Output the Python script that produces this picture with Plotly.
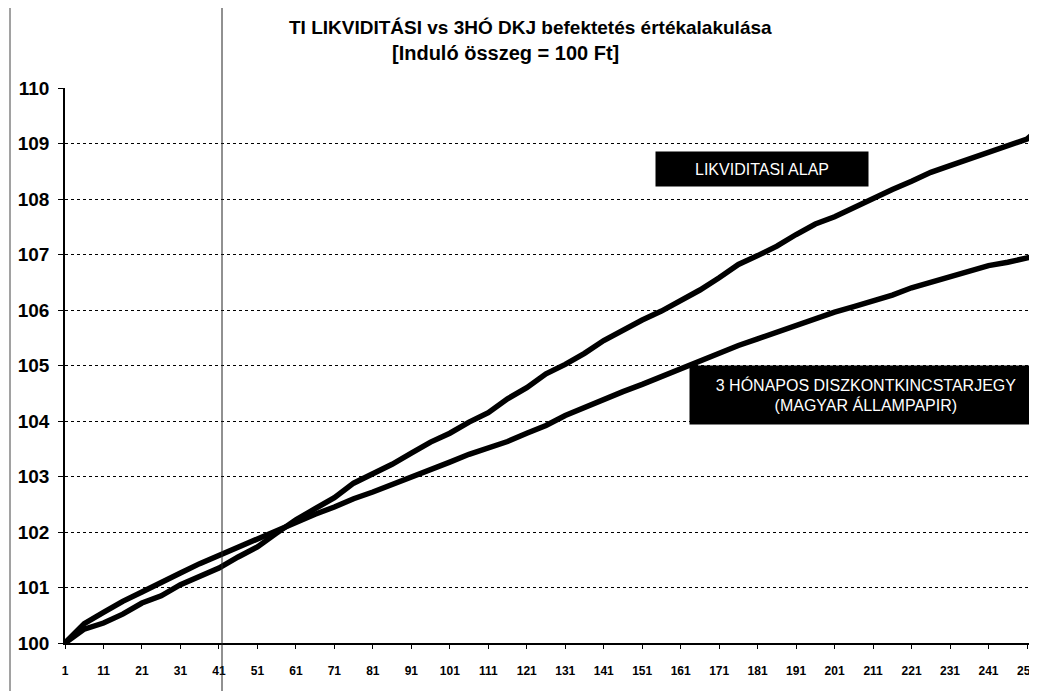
import plotly.graph_objects as go

# ---- data ----
days = [1, 6, 11, 16, 21, 26, 31, 36, 41, 46, 51, 56, 61, 66, 71, 76, 81, 86, 91, 96,
        101, 106, 111, 116, 121, 126, 131, 136, 141, 146, 151, 156, 161, 166, 171, 176,
        181, 186, 191, 196, 201, 206, 211, 216, 221, 226, 231, 236, 241, 246, 251, 253]

likviditasi = [100.00, 100.25, 100.36, 100.52, 100.72, 100.85, 101.05, 101.20, 101.35, 101.55,
               101.73, 101.98, 102.22, 102.42, 102.62, 102.88, 103.05, 103.22, 103.42, 103.62,
               103.78, 103.98, 104.15, 104.40, 104.60, 104.85, 105.02, 105.22, 105.45, 105.64,
               105.82, 105.98, 106.16, 106.36, 106.58, 106.82, 106.98, 107.15, 107.36, 107.55,
               107.68, 107.85, 108.00, 108.17, 108.32, 108.48, 108.60, 108.72, 108.83, 108.95,
               109.08, 109.20]

dkj = [100.00, 100.35, 100.55, 100.75, 100.92, 101.08, 101.26, 101.43, 101.58, 101.73,
       101.88, 102.02, 102.17, 102.32, 102.45, 102.60, 102.72, 102.85, 102.98, 103.12,
       103.26, 103.40, 103.52, 103.63, 103.78, 103.92, 104.10, 104.25, 104.40, 104.53,
       104.66, 104.80, 104.95, 105.08, 105.22, 105.36, 105.48, 105.60, 105.72, 105.86,
       105.96, 106.06, 106.16, 106.27, 106.40, 106.50, 106.60, 106.70, 106.80, 106.86,
       106.93, 106.97]

x_tick_vals = [1, 11, 21, 31, 41, 51, 61, 71, 81, 91, 101, 111, 121, 131, 141, 151, 161,
               171, 181, 191, 201, 211, 221, 231, 241, 251]
x_tick_text = [str(v) for v in x_tick_vals]
y_tick_vals = [100, 101, 102, 103, 104, 105, 106, 107, 108, 109, 110]

title_line1 = "TI LIKVIDITÁSI vs 3HÓ DKJ befektetés értékalakulása"
title_line2 = "[Induló összeg = 100 Ft]"
label_likv = "LIKVIDITASI ALAP"
label_dkj = "3 HÓNAPOS DISZKONTKINCSTARJEGY<br>(MAGYAR ÁLLAMPAPIR)"

FONT = "Liberation Sans, Arial, sans-serif"

# page offset of the plot div (browser body margin)
OFF = 8
PW, PH = 972, 555          # plot area size in px
PX0, PY0 = 65, 643         # window px of plot-area left / bottom


def px(xw):
    return (xw - PX0) / PW


def py(yw):
    return (PY0 - yw) / PH


fig = go.Figure()
fig.add_trace(go.Scatter(x=days, y=dkj, mode="lines", name="3 HÓ DKJ",
                         line=dict(color="black", width=5.5)))
fig.add_trace(go.Scatter(x=days, y=likviditasi, mode="lines", name="Likviditási alap",
                         line=dict(color="black", width=5.5)))

fig.update_layout(
    width=1037, height=691,
    margin=dict(l=PX0 - OFF, r=OFF, t=88 - OFF, b=691 - (PY0 - OFF)),
    paper_bgcolor="white", plot_bgcolor="white",
    showlegend=False,
    font=dict(family=FONT, color="black"),
)

fig.update_xaxes(
    range=[1, 253.6], tickmode="array", tickvals=x_tick_vals, ticktext=x_tick_text,
    showgrid=False, zeroline=False, showline=True, linecolor="black", linewidth=1.5,
    ticks="outside", ticklen=4, tickcolor="black",
    tickfont=dict(family=FONT, size=12, weight="bold", color="black"),
    ticklabelstandoff=12,
)
fig.update_yaxes(
    range=[100, 110], tickmode="array", tickvals=y_tick_vals,
    showgrid=True, gridcolor="black", gridwidth=1, griddash="dot",
    zeroline=False, showline=True, linecolor="black", linewidth=1.5,
    ticks="outside", ticklen=5, tickcolor="black",
    tickfont=dict(family=FONT, size=19, weight="bold", color="black"),
    ticklabelstandoff=5,
)

# title lines
fig.add_annotation(text=title_line1, xref="paper", yref="paper",
                   x=px(530), y=py(27), xanchor="center", yanchor="middle",
                   showarrow=False,
                   font=dict(family=FONT, size=19, weight="bold", color="black"))
fig.add_annotation(text=title_line2, xref="paper", yref="paper",
                   x=px(505), y=py(53), xanchor="center", yanchor="middle",
                   showarrow=False,
                   font=dict(family=FONT, size=20, weight="bold", color="black"))

# black label boxes
fig.add_annotation(text=label_likv, xref="paper", yref="paper",
                   x=px(761.5), y=py(168.5), xanchor="center", yanchor="middle",
                   showarrow=False,
                   bgcolor="black", width=200, height=22, borderpad=6,
                   font=dict(family=FONT, size=16, color="white"))
fig.add_annotation(text=label_dkj, xref="paper", yref="paper",
                   x=px(866), y=py(395), xanchor="center", yanchor="middle",
                   showarrow=False,
                   bgcolor="black", width=340, height=46, borderpad=6,
                   font=dict(family=FONT, size=16, color="white"))

# scan border / fold lines
fig.add_shape(type="line", xref="paper", yref="paper",
              x0=px(222), x1=px(222), y0=py(700), y1=py(0),
              line=dict(color="#222", width=1))
fig.add_shape(type="line", xref="paper", yref="paper",
              x0=px(10), x1=px(10), y0=py(700), y1=py(0),
              line=dict(color="#444", width=1))

fig.write_html("out.html")
